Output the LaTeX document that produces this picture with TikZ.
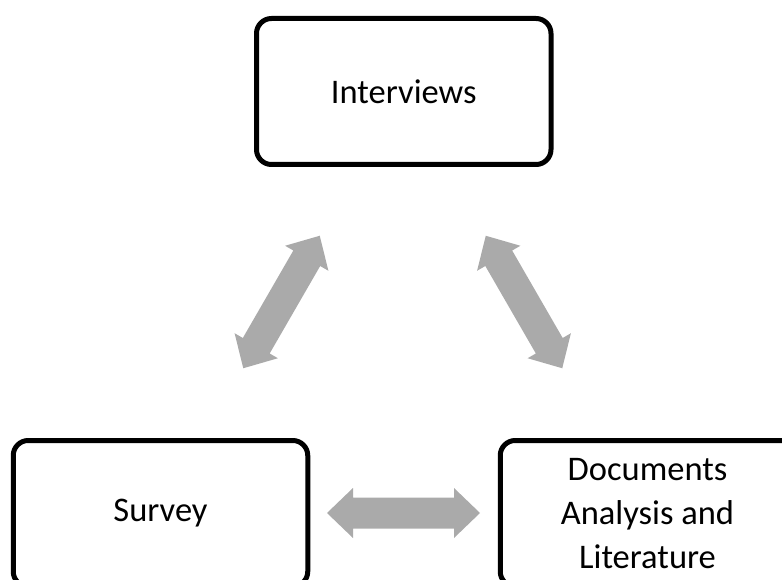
\documentclass[tikz,border=0pt]{standalone}
\usepackage{fontspec}
\setmainfont{Carlito}
\definecolor{arrowgray}{RGB}{170,170,170}
\tikzset{
  box/.style={draw=black, line width=5pt, rounded corners=15pt, minimum width=294.5pt,
    minimum height=146pt, inner sep=0pt, align=center, font=\fontsize{34.5}{44}\selectfont},
  darrow/.pic={\fill[arrowgray] (-76.5,0) -- (-50.5,25) -- (-50.5,15.5) -- (50.5,15.5) -- (50.5,25)
     -- (76.5,0) -- (50.5,-25) -- (50.5,-15.5) -- (-50.5,-15.5) -- (-50.5,-25) -- cycle;}
}
\begin{document}
\begin{tikzpicture}[x=1pt,y=1pt]
\useasboundingbox (0,0) rectangle (782,-580);
\begin{scope}
\clip (0,0) rectangle (782,-580);
\node[box] (interviews) at (403.75,-91.5) {Interviews};
\node[box] (survey) at (160.5,-513.5) {Survey};
\node[box] (docs) at (647.5,-513.5) {Documents\\Analysis and\\Literature};
\coordinate (aleft) at (281.5,-302);
\coordinate (aright) at (524,-302);
\coordinate (abottom) at (403.5,-513);
\pic[rotate=60] at (aleft) {darrow};
\pic[rotate=-60] at (aright) {darrow};
\pic at (abottom) {darrow};
\end{scope}
\end{tikzpicture}
\end{document}
